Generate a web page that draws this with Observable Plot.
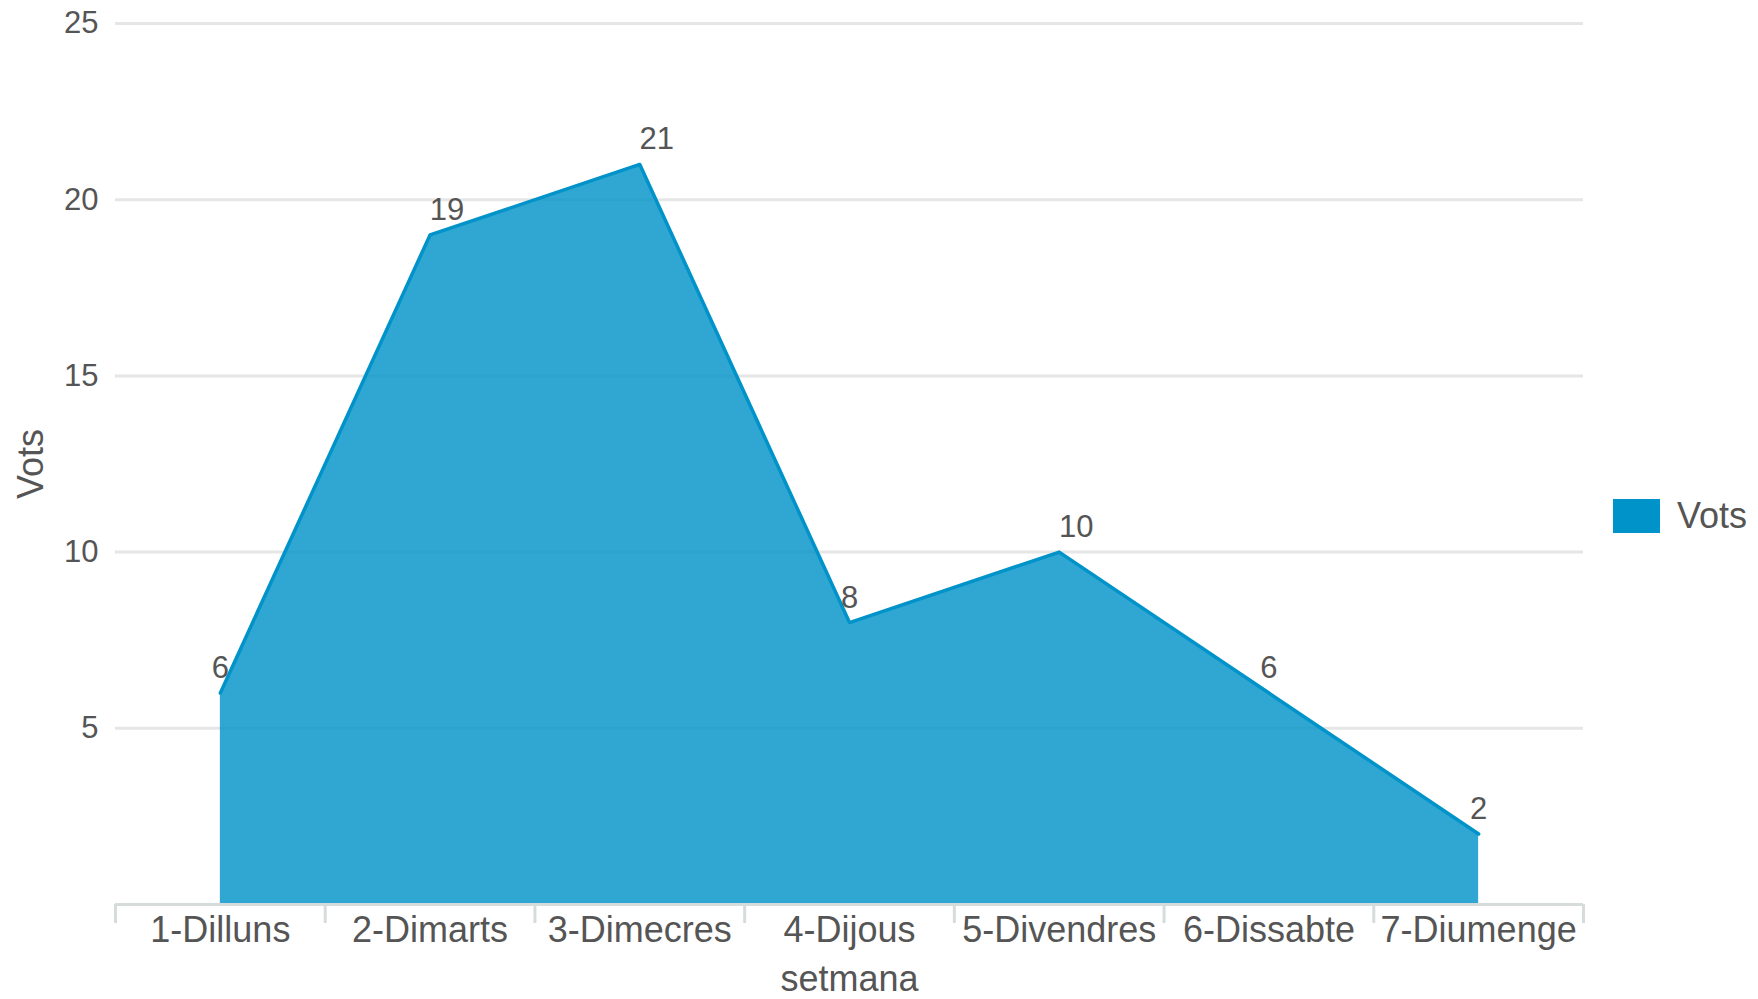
<!DOCTYPE html>
<html>
<head>
<meta charset="utf-8">
<script src="https://cdn.jsdelivr.net/npm/d3@7"></script>
<script src="https://cdn.jsdelivr.net/npm/@observablehq/plot@0.6"></script>
<style>
  html, body { margin: 0; padding: 0; background: #fff; }
  #wrap { position: relative; width: 1758px; height: 999px; font-family: "Liberation Sans", Arial, sans-serif; }
  #legend { position: absolute; left: 1613px; top: 498px; display: flex; align-items: center; }
  #legend .sw { width: 47px; height: 34px; background: #0093c9; }
  #legend .lb { margin-left: 17px; font-size: 36px; line-height: 36px; color: #555; }
</style>
</head>
<body>
<div id="wrap"><div id="legend"><div class="sw"></div><div class="lb">Vots</div></div></div>
<script>
const days = ["1-Dilluns", "2-Dimarts", "3-Dimecres", "4-Dijous", "5-Divendres", "6-Dissabte", "7-Diumenge"];
const votes = [6, 19, 21, 8, 10, 6, 2];
const yTicks = [5, 10, 15, 20, 25];
const seriesName = "Vots";
const xTitle = "setmana";
const yTitle = "Vots";

const data = days.map((d, i) => ({i, day: d, votes: votes[i]}));

const W = 1758, H = 999;
const mL = 115, mR = 175, mT = 23, mB = 95;
const pxPerUnit = (H - mT - mB) / 25;
const tickLen = 19;

const chart = Plot.plot({
  width: W,
  height: H,
  marginLeft: mL,
  marginRight: mR,
  marginTop: mT,
  marginBottom: mB,
  style: {fontFamily: "'Liberation Sans', Arial, sans-serif", color: "#555", background: "#fff"},
  x: {domain: [-0.5, days.length - 0.5]},
  y: {domain: [0, 25]},
  marks: [
    Plot.gridY(yTicks, {stroke: "#e6e6e6", strokeOpacity: 1, strokeWidth: 3}),
    Plot.areaY(data, {x: "i", y: "votes", fill: "#0093c9", fillOpacity: 0.81}),
    Plot.lineY(data, {x: "i", y: "votes", stroke: "#0093c9", strokeWidth: 3.5}),
    Plot.ruleY([0], {stroke: "#d6dcdc", strokeWidth: 3}),
    Plot.ruleX(d3.range(days.length + 1), {x: d => d - 0.5, y1: 0, y2: -tickLen / pxPerUnit, stroke: "#d6dcdc", strokeWidth: 3}),
    Plot.axisX({ticks: d3.range(days.length), tickFormat: i => days[i], tickSize: 0, tickPadding: 12, fontSize: 36, fill: "#555", label: null}),
    Plot.axisY({ticks: yTicks, tickSize: 0, tickPadding: 17, fontSize: 31, fill: "#555", label: null}),
    Plot.text([xTitle], {frameAnchor: "bottom", dy: 75, fontSize: 36, fill: "#555", lineAnchor: "middle", textAnchor: "middle"}),
    Plot.text([yTitle], {frameAnchor: "left", dx: -84, rotate: -90, fontSize: 36, fill: "#555", lineAnchor: "middle", textAnchor: "middle"}),
    Plot.text(data.filter(d => d.votes >= 10), {x: "i", y: "votes", text: d => String(d.votes), dx: 17, dy: -25, fontSize: 31, fill: "#555", lineAnchor: "middle"}),
    Plot.text(data.filter(d => d.votes < 10), {x: "i", y: "votes", text: d => String(d.votes), dx: 0, dy: -25, fontSize: 31, fill: "#555", lineAnchor: "middle"})
  ]
});
document.getElementById("wrap").prepend(chart);
</script>
</body>
</html>
